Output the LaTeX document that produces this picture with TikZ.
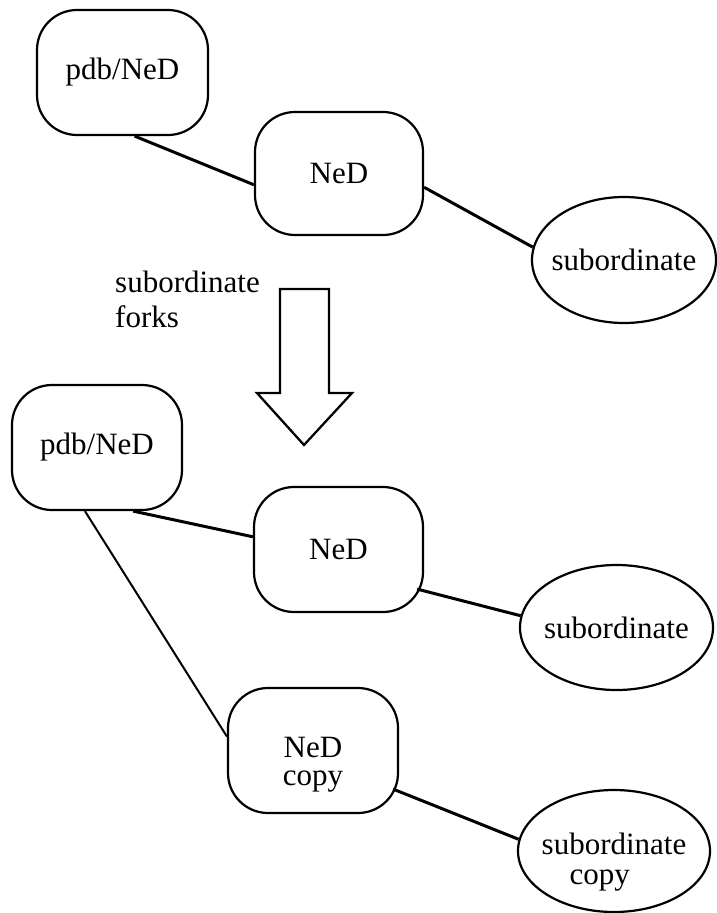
\documentclass[tikz,border=0pt]{standalone}
\usepackage{fontspec}
\setmainfont{Liberation Serif}
\usetikzlibrary{calc,shapes.geometric}
\newcommand{\lowtext}[3]{\raisebox{#1}[\height][\depth]{\begin{tabular}{@{}#2@{}}#3\end{tabular}}}
\tikzset{
  nodefont/.style={font=\fontsize{31}{25}\selectfont},
  boxnode/.style={draw, line width=2.2pt, rounded corners=40pt, inner sep=0pt, nodefont, align=center},
  ovalnode/.style={draw, ellipse, line width=2.2pt, inner xsep=-30pt, inner ysep=0pt, nodefont, align=center},
  conn/.style={line width=3pt},
  thinconn/.style={line width=2pt},
  bigarrow/.style={draw, line width=2.3pt, line join=miter}
}
\begin{document}
\begin{tikzpicture}[x=1pt, y=-1pt]
\useasboundingbox (0,0) rectangle (717,913);

% top part
\node[boxnode, minimum width=171pt, minimum height=125pt] (pdbTop) at (122.5,72.5) {pdb/NeD};
\node[boxnode, minimum width=168pt, minimum height=123pt] (nedTop) at (339,173.5) {NeD};
\node[ovalnode, minimum width=184pt, minimum height=126pt] (subTop) at (624,260) {subordinate};

% label and arrow
\node[anchor=base west, align=left, font=\fontsize{31}{35}\selectfont, inner sep=0pt] (forkLabel) at (115,327) {subordinate\\forks};
\path[bigarrow] (280,289) -- (329,289) -- (329,393) -- (352,393) -- (304,445) -- (257,393) -- (280,393) -- cycle;

% bottom part
\node[boxnode, minimum width=170pt, minimum height=125pt] (pdbBot) at (97,447.5) {pdb/NeD};
\node[boxnode, minimum width=169pt, minimum height=125pt] (nedMid) at (338.5,549.5) {NeD};
\node[ovalnode, minimum width=193pt, minimum height=125pt] (subMid) at (616.5,627.5) {subordinate};
\node[boxnode, minimum width=170pt, minimum height=125pt, font=\fontsize{31}{28}\selectfont] (nedCopy) at (313,750.5) {\lowtext{-15pt}{c}{NeD\\copy}};
\node[ovalnode, minimum width=192pt, minimum height=122pt, font=\fontsize{31}{30}\selectfont] (subCopy) at (614,851) {\lowtext{-12pt}{l}{subordinate\\\hspace*{28pt}copy}};

% connectors
\draw[conn] ($(pdbTop.south west)!0.57!(pdbTop.south east)$) -- ($(nedTop.north west)!0.59!(nedTop.south west)$);
\draw[conn] ($(nedTop.north east)!0.61!(nedTop.south east)$) -- (subTop.172);
\draw[conn] ($(pdbBot.south west)!0.71!(pdbBot.south east)$) -- ($(nedMid.north west)!0.40!(nedMid.south west)$);
\draw[thinconn] ($(pdbBot.south west)!0.43!(pdbBot.south east)$) -- ($(nedCopy.north west)!0.39!(nedCopy.south west)$);
\draw[conn] ($(nedMid.south east)+(-7,-24)$) -- (subMid.173);
\draw[conn] ($(nedCopy.south east)+(-6,-25)$) -- (subCopy.173);
\end{tikzpicture}
\end{document}
